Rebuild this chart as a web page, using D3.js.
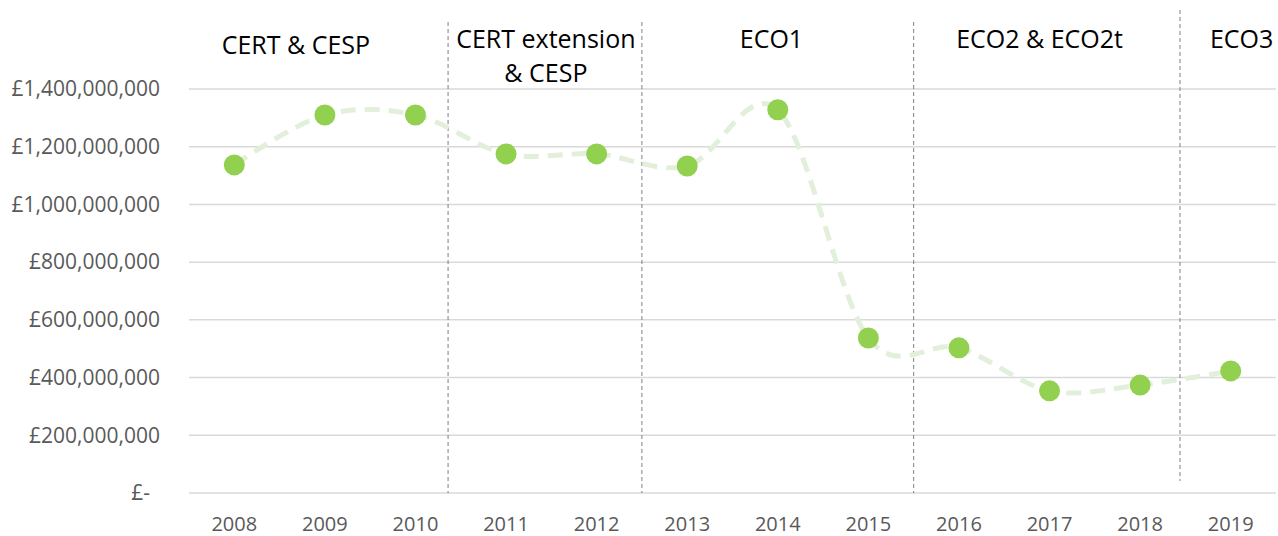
<!DOCTYPE html>
<html>
<head>
<meta charset="utf-8">
<script src="https://cdn.jsdelivr.net/npm/d3@7"></script>
<style>
  body { margin: 0; background: #fff; }
  svg text { font-family: "Open Sans", sans-serif; }
</style>
</head>
<body>
<div id="chart"></div>
<script>
const years = ["2008","2009","2010","2011","2012","2013","2014","2015","2016","2017","2018","2019"];
const spend = [1137e6, 1310e6, 1310e6, 1175e6, 1175e6, 1133e6, 1328e6, 537e6, 503e6, 354e6, 374e6, 423e6];
const yTicks = [0, 200e6, 400e6, 600e6, 800e6, 1000e6, 1200e6, 1400e6];
// scheme boundaries, in year units (index positions)
const dividers = [2.36, 4.5, 7.5, 10.44];
const schemeNames = [["CERT & CESP"], ["CERT extension", "& CESP"], ["ECO1"], ["ECO2 & ECO2t"], ["ECO3"]];
const schemeCentres = [0.68, 3.44, 5.93, 8.89, 11.12];

const width = 1278, height = 536;
const margin = {top: 89, right: 2, bottom: 43, left: 189};

const svg = d3.select("#chart").append("svg")
    .attr("width", width)
    .attr("height", height);

const x = d3.scaleBand()
    .domain(years)
    .range([margin.left, width - margin.right]);

// continuous index scale for things sitting between categories
const xi = d3.scaleLinear()
    .domain([0, 1])
    .range([x(years[0]) + x.bandwidth() / 2, x(years[1]) + x.bandwidth() / 2]);

const y = d3.scaleLinear()
    .domain([0, 1400e6])
    .range([height - margin.bottom, margin.top]);

const fmt = v => v === 0 ? "£-" : "£" + d3.format(",")(v);

// gridlines
svg.append("g")
    .selectAll("line")
    .data(yTicks)
    .enter()
    .append("line")
    .attr("x1", margin.left)
    .attr("x2", width - margin.right)
    .attr("y1", d => y(d))
    .attr("y2", d => y(d))
    .attr("stroke", "#d9d9d9")
    .attr("stroke-width", 1.5);

// y labels
svg.append("g")
    .selectAll("text")
    .data(yTicks)
    .enter()
    .append("text")
    .attr("x", d => d === 0 ? 150 : 160)
    .attr("y", d => y(d))
    .attr("dy", "0.35em")
    .attr("text-anchor", "end")
    .attr("fill", "#595959")
    .style("font-size", "21px")
    .text(fmt);

// x labels
svg.append("g")
    .selectAll("text")
    .data(years)
    .enter()
    .append("text")
    .attr("x", d => x(d) + x.bandwidth() / 2)
    .attr("y", 531)
    .attr("text-anchor", "middle")
    .attr("fill", "#595959")
    .style("font-size", "20px")
    .text(d => d);

// scheme dividers
svg.append("g")
    .selectAll("line")
    .data(dividers)
    .enter()
    .append("line")
    .attr("x1", d => xi(d))
    .attr("x2", d => xi(d))
    .attr("y1", (d, i) => i == 3 ? 10 : 22)
    .attr("y2", (d, i) => i == 3 ? 481 : 493)
    .attr("stroke", "#7f7f7f")
    .attr("stroke-width", 1)
    .attr("stroke-dasharray", "4,3");

// scheme names
let names = svg.append("g")
    .selectAll("text")
    .data(schemeNames)
    .enter()
    .append("text")
    .attr("text-anchor", "middle")
    .attr("fill", "#000")
    .style("font-size", "25px")
    .attr("x", (d, i) => xi(schemeCentres[i]))
    .attr("y", (d, i) => i == 0 ? 54 : 48);

names.selectAll("tspan")
    .data(d => d)
    .enter()
    .append("tspan")
    .attr("x", function () { return this.parentNode.getAttribute("x"); })
    .attr("dy", (d, i) => i == 0 ? 0 : 34)
    .text(d => d);

// smoothed line
const line = d3.line()
    .x((d, i) => x(years[i]) + x.bandwidth() / 2)
    .y(d => y(d))
    .curve(d3.curveCardinal.tension(0));

svg.append("path")
    .datum(spend)
    .attr("d", line)
    .attr("fill", "none")
    .attr("stroke", "#e2efda")
    .attr("stroke-width", 5)
    .attr("stroke-dasharray", "15,9");

// markers
svg.append("g")
    .selectAll("circle")
    .data(spend)
    .enter()
    .append("circle")
    .attr("cx", (d, i) => x(years[i]) + x.bandwidth() / 2)
    .attr("cy", d => y(d))
    .attr("r", 10.5)
    .attr("fill", "#92d050");
</script>
</body>
</html>
